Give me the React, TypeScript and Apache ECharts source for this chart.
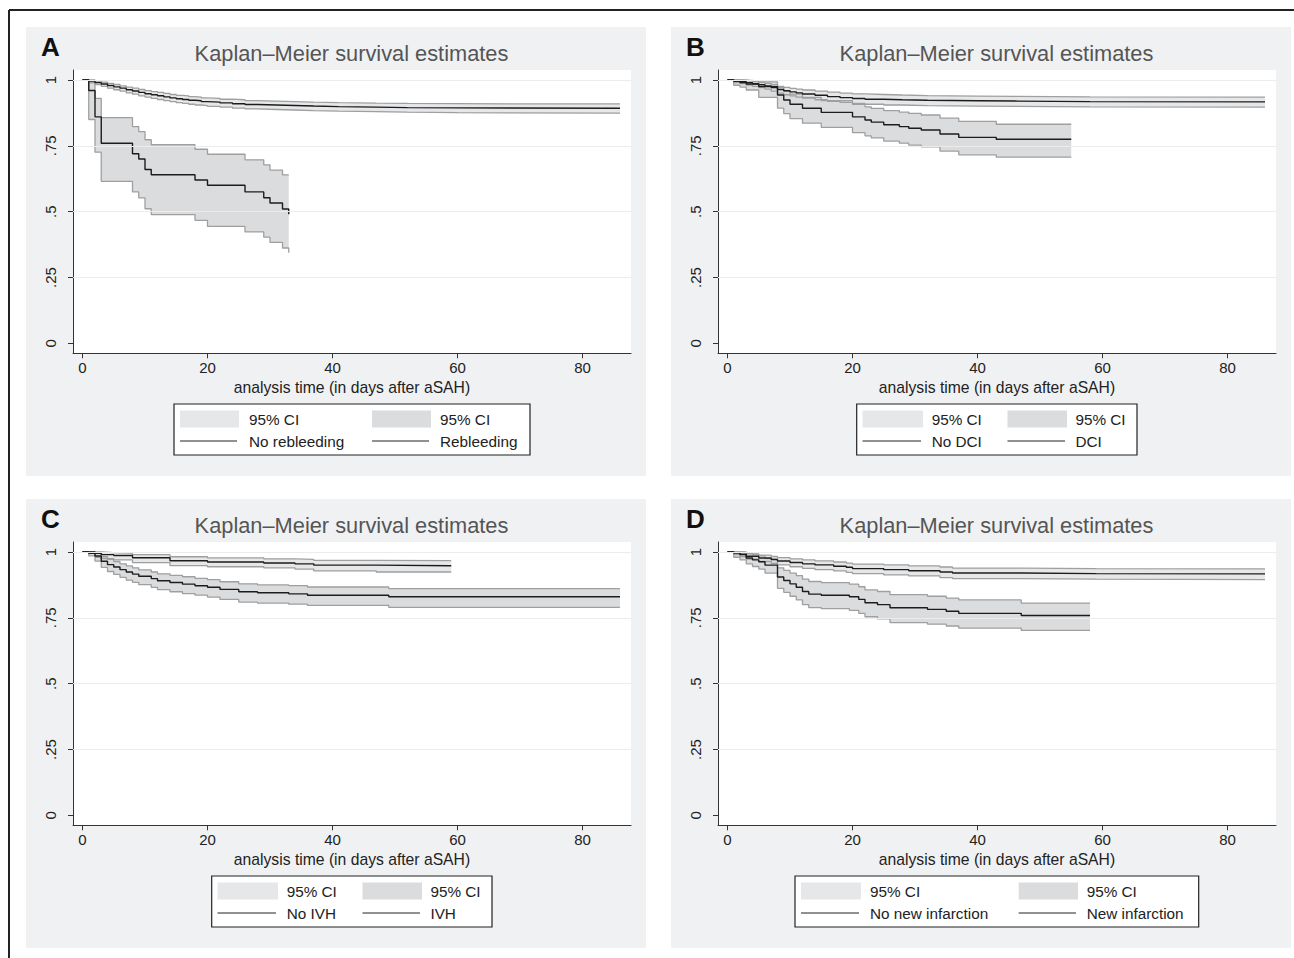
import React, { useEffect, useRef } from 'react';
import * as echarts from 'echarts';

// ---------- Panel A: rebleeding ----------
const aNoTime = [0, 1, 2, 3, 4, 5, 6, 7, 8, 9, 10, 11, 12, 13, 14, 15, 16, 17, 18, 19, 20, 22, 24, 26, 28, 31, 34, 37, 41, 47, 52, 60, 86];
const aNoSurv = [1, 0.996, 0.99, 0.985, 0.979, 0.974, 0.969, 0.963, 0.958, 0.953, 0.948, 0.944, 0.94, 0.936, 0.932, 0.929, 0.926, 0.923, 0.921, 0.918, 0.916, 0.913, 0.91, 0.907, 0.905, 0.903, 0.901, 0.899, 0.897, 0.895, 0.894, 0.893, 0.893];
const aNoUpper = [1, 1, 0.996, 0.992, 0.987, 0.983, 0.978, 0.973, 0.969, 0.964, 0.96, 0.956, 0.953, 0.949, 0.945, 0.942, 0.94, 0.937, 0.935, 0.932, 0.93, 0.927, 0.925, 0.922, 0.92, 0.918, 0.916, 0.914, 0.912, 0.911, 0.91, 0.909, 0.909];
const aNoLower = [1, 0.99, 0.983, 0.976, 0.969, 0.963, 0.958, 0.951, 0.946, 0.94, 0.935, 0.93, 0.926, 0.922, 0.918, 0.914, 0.911, 0.908, 0.905, 0.903, 0.9, 0.897, 0.893, 0.89, 0.888, 0.886, 0.884, 0.882, 0.88, 0.878, 0.876, 0.874, 0.874];

const aReTime = [0, 1, 2, 3, 8, 9, 10, 11, 18, 20, 26, 29, 30, 32, 33];
const aReSurv = [1, 0.96, 0.86, 0.76, 0.72, 0.7, 0.66, 0.64, 0.62, 0.6, 0.575, 0.553, 0.533, 0.51, 0.49];
const aReUpper = [1, 0.99, 0.93, 0.857, 0.823, 0.804, 0.773, 0.754, 0.737, 0.718, 0.697, 0.678, 0.658, 0.64, 0.64];
const aReLower = [1, 0.85, 0.726, 0.615, 0.575, 0.552, 0.511, 0.489, 0.467, 0.444, 0.423, 0.403, 0.383, 0.362, 0.344];

// ---------- Panel B: DCI ----------
const bNoTime = [0, 1, 2, 3, 4, 5, 6, 7, 8, 9, 10, 11, 12, 14, 16, 18, 20, 22, 25, 28, 32, 36, 40, 46, 58, 86];
const bNoSurv = [1, 0.997, 0.994, 0.99, 0.986, 0.982, 0.977, 0.971, 0.964, 0.959, 0.955, 0.951, 0.947, 0.942, 0.937, 0.933, 0.93, 0.927, 0.925, 0.923, 0.922, 0.921, 0.92, 0.918, 0.917, 0.917];
const bNoUpper = [1, 1, 0.999, 0.997, 0.994, 0.991, 0.987, 0.982, 0.976, 0.972, 0.968, 0.965, 0.962, 0.958, 0.954, 0.95, 0.947, 0.945, 0.943, 0.941, 0.94, 0.939, 0.938, 0.936, 0.935, 0.935];
const bNoLower = [1, 0.99, 0.986, 0.981, 0.976, 0.971, 0.965, 0.958, 0.95, 0.944, 0.94, 0.935, 0.931, 0.925, 0.919, 0.915, 0.911, 0.908, 0.905, 0.903, 0.902, 0.901, 0.9, 0.898, 0.897, 0.897];

const bDciTime = [0, 1, 2, 3, 5, 8, 9, 10, 12, 15, 20, 22, 23, 25, 27.5, 29, 31, 34, 37, 43, 55];
const bDciSurv = [1, 0.995, 0.99, 0.985, 0.975, 0.943, 0.924, 0.908, 0.893, 0.877, 0.86, 0.848, 0.84, 0.83, 0.823, 0.817, 0.81, 0.795, 0.782, 0.775, 0.775];
const bDciUpper = [1, 1, 0.999, 0.997, 0.993, 0.972, 0.958, 0.946, 0.934, 0.922, 0.908, 0.898, 0.892, 0.884, 0.878, 0.873, 0.867, 0.855, 0.843, 0.832, 0.832];
const bDciLower = [1, 0.98, 0.973, 0.962, 0.934, 0.893, 0.872, 0.853, 0.836, 0.82, 0.8, 0.788, 0.78, 0.768, 0.76, 0.753, 0.746, 0.73, 0.716, 0.707, 0.707];

// ---------- Panel C: IVH ----------
const cNoTime = [0, 2, 3, 5, 8, 14, 20, 29, 34, 37, 47, 59];
const cNoSurv = [1, 0.995, 0.99, 0.987, 0.978, 0.967, 0.962, 0.958, 0.955, 0.95, 0.948, 0.948];
const cNoUpper = [1, 1, 0.998, 0.996, 0.99, 0.982, 0.978, 0.974, 0.972, 0.968, 0.967, 0.967];
const cNoLower = [1, 0.98, 0.975, 0.97, 0.96, 0.948, 0.944, 0.94, 0.935, 0.928, 0.924, 0.923];

const cIvhTime = [0, 1, 2, 3, 4, 5, 6, 7, 8, 9, 11, 12, 14, 16, 18, 20, 22, 25, 28, 33, 36, 49, 86];
const cIvhSurv = [1, 0.995, 0.985, 0.965, 0.952, 0.943, 0.933, 0.924, 0.916, 0.908, 0.899, 0.891, 0.884, 0.878, 0.872, 0.866, 0.858, 0.849, 0.845, 0.841, 0.836, 0.83, 0.83];
const cIvhUpper = [1, 1, 0.996, 0.982, 0.972, 0.964, 0.955, 0.947, 0.94, 0.932, 0.924, 0.917, 0.911, 0.906, 0.9, 0.895, 0.887, 0.879, 0.875, 0.872, 0.867, 0.861, 0.861];
const cIvhLower = [1, 0.985, 0.965, 0.942, 0.926, 0.915, 0.904, 0.893, 0.885, 0.876, 0.866, 0.857, 0.849, 0.842, 0.836, 0.829, 0.82, 0.81, 0.806, 0.802, 0.797, 0.79, 0.79];

// ---------- Panel D: new infarction ----------
const dNoTime = [0, 1, 2, 3, 5, 7, 8, 10, 12, 14, 17, 19, 20, 25, 29, 34, 36, 47, 59, 86];
const dNoSurv = [1, 0.997, 0.992, 0.984, 0.977, 0.971, 0.966, 0.96, 0.955, 0.951, 0.946, 0.942, 0.937, 0.933, 0.929, 0.924, 0.92, 0.918, 0.917, 0.917];
const dNoUpper = [1, 1, 0.998, 0.993, 0.988, 0.983, 0.979, 0.974, 0.97, 0.966, 0.962, 0.958, 0.954, 0.951, 0.947, 0.943, 0.939, 0.937, 0.936, 0.936];
const dNoLower = [1, 0.99, 0.983, 0.973, 0.964, 0.957, 0.951, 0.944, 0.938, 0.933, 0.928, 0.923, 0.918, 0.913, 0.909, 0.903, 0.899, 0.897, 0.895, 0.895];

const dNewTime = [0, 1, 2, 3, 4, 5, 6, 8, 9, 10, 11, 12, 13, 15, 19.5, 21, 22, 24, 26, 32, 35, 37, 47, 58];
const dNewSurv = [1, 0.997, 0.99, 0.977, 0.97, 0.963, 0.95, 0.905, 0.892, 0.879, 0.866, 0.85, 0.84, 0.836, 0.83, 0.82, 0.807, 0.8, 0.788, 0.782, 0.775, 0.767, 0.759, 0.759];
const dNewUpper = [1, 1, 1, 0.995, 0.99, 0.985, 0.975, 0.94, 0.93, 0.92, 0.91, 0.897, 0.888, 0.884, 0.878, 0.868, 0.856, 0.85, 0.838, 0.832, 0.825, 0.818, 0.806, 0.806];
const dNewLower = [1, 0.98, 0.97, 0.955, 0.945, 0.935, 0.92, 0.862, 0.847, 0.832, 0.818, 0.8, 0.789, 0.785, 0.778, 0.767, 0.754, 0.746, 0.732, 0.726, 0.719, 0.711, 0.702, 0.702];

// ---------- Axis ticks & texts ----------
const xTicks = [0, 20, 40, 60, 80];
const yTicks = [0, 0.25, 0.5, 0.75, 1];
const yTickLabels = ['0', '.25', '.5', '.75', '1'];
const panelLetters = ['A', 'B', 'C', 'D'];
const groupNames = [
  ['No rebleeding', 'Rebleeding'],
  ['No DCI', 'DCI'],
  ['No IVH', 'IVH'],
  ['No new infarction', 'New infarction'],
];
const ciLabel = '95% CI';
const chartTitle = 'Kaplan\u2013Meier survival estimates';
const xTitle = 'analysis time (in days after aSAH)';

const FONT = '"Liberation Sans", Arial, Helvetica, sans-serif';

type Group = { t: number[]; s: number[]; u: number[]; l: number[] };

const panelGroups: Group[][] = [
  [
    { t: aNoTime, s: aNoSurv, u: aNoUpper, l: aNoLower },
    { t: aReTime, s: aReSurv, u: aReUpper, l: aReLower },
  ],
  [
    { t: bNoTime, s: bNoSurv, u: bNoUpper, l: bNoLower },
    { t: bDciTime, s: bDciSurv, u: bDciUpper, l: bDciLower },
  ],
  [
    { t: cNoTime, s: cNoSurv, u: cNoUpper, l: cNoLower },
    { t: cIvhTime, s: cIvhSurv, u: cIvhUpper, l: cIvhLower },
  ],
  [
    { t: dNoTime, s: dNoSurv, u: dNoUpper, l: dNoLower },
    { t: dNewTime, s: dNewSurv, u: dNewUpper, l: dNewLower },
  ],
];

// layout (pixels)
const offsets = [
  [0, 0],
  [645, 0],
  [0, 472],
  [645, 472],
];
// legend geometry relative to panel offset: [boxL, boxR, sw1L, sw1R, tx1, sw2L, sw2R, tx2]
const legendGeom = [
  [174, 530, 180, 239, 249, 372, 431, 440],
  [211.7, 492, 217.5, 278, 286.7, 362.5, 422, 430.4],
  [211.7, 492, 217.5, 278, 286.7, 362.5, 422, 430.4],
  [150, 553.7, 156, 216, 225, 373.7, 433, 441.7],
];

const GRID_L = 73;
const GRID_T = 70;
const GRID_W = 558;
const GRID_H = 283.3;
const X_MIN = -1.52;
const X_MAX = 87.76;
const Y_MIN = -0.038;
const Y_MAX = 1.038;

const BAND_FILLS = ['#e6e7e9', '#dbdcde'];
const EDGE = '#9f9f9f';

function yLabel(v: number): string {
  for (let i = 0; i < yTicks.length; i++) {
    if (Math.abs(yTicks[i] - v) < 1e-9) return yTickLabels[i];
  }
  return '';
}

// custom series drawing a step-shaped confidence band polygon through the axis scales
function bandSeries(i: number, grp: Group, fill: string): any {
  return {
    type: 'custom',
    coordinateSystem: 'cartesian2d',
    xAxisIndex: i,
    yAxisIndex: i,
    silent: true,
    z: 2,
    clip: true,
    data: grp.t.map((x, j) => [x, grp.l[j], grp.u[j]]),
    encode: { x: 0, y: [1, 2] },
    renderItem: (params: any, api: any) => {
      if (params.dataIndex !== 0) return null;
      const n = grp.t.length;
      const pts: number[][] = [];
      for (let j = 0; j < n; j++) {
        pts.push(api.coord([grp.t[j], grp.u[j]]));
        if (j < n - 1) pts.push(api.coord([grp.t[j + 1], grp.u[j]]));
      }
      for (let j = n - 1; j >= 0; j--) {
        if (j < n - 1) pts.push(api.coord([grp.t[j + 1], grp.l[j]]));
        pts.push(api.coord([grp.t[j], grp.l[j]]));
      }
      return {
        type: 'polygon',
        shape: { points: pts },
        style: { fill, stroke: 'none' },
      };
    },
  };
}

function stepLine(i: number, t: number[], v: number[], color: string, width: number, z: number): any {
  return {
    type: 'line', xAxisIndex: i, yAxisIndex: i, step: 'end', symbol: 'none', silent: true, z,
    data: t.map((x, j) => [x, v[j]]),
    lineStyle: { color, width },
  };
}

function buildOption(): any {
  const grid: any[] = [];
  const xAxis: any[] = [];
  const yAxis: any[] = [];
  const series: any[] = [];
  const graphic: any[] = [];

  // outer frame (top and left)
  graphic.push({ type: 'line', shape: { x1: 9, y1: 10, x2: 1294, y2: 10 }, style: { stroke: '#222', lineWidth: 2 }, z: 20, silent: true });
  graphic.push({ type: 'line', shape: { x1: 9, y1: 10, x2: 9, y2: 958 }, style: { stroke: '#222', lineWidth: 2 }, z: 20, silent: true });

  panelGroups.forEach((groups, i) => {
    const [ox, oy] = offsets[i];
    graphic.push({ type: 'rect', shape: { x: 26 + ox, y: 27 + oy, width: 620, height: 449 }, style: { fill: '#f0f1f3' }, z: -10, silent: true });
    graphic.push({
      type: 'text', x: 41 + ox, y: 47 + oy, z: 10, silent: true,
      style: { text: panelLetters[i], fontSize: 26, fontWeight: 'bold', fontFamily: FONT, fill: '#111', textAlign: 'left', textVerticalAlign: 'middle' },
    });
    graphic.push({
      type: 'text', x: GRID_L + ox + GRID_W / 2 - 0.5, y: 53 + oy, z: 10, silent: true,
      style: { text: chartTitle, fontSize: 21.8, fontFamily: FONT, fill: '#555', textAlign: 'center', textVerticalAlign: 'middle' },
    });
    const g = legendGeom[i];
    const by1 = 404 + oy;
    const by2 = 455 + oy;
    const r1 = 419 + oy;
    const r2 = 441 + oy;
    graphic.push({ type: 'rect', shape: { x: g[0] + ox, y: by1, width: g[1] - g[0], height: by2 - by1 }, style: { fill: '#ffffff', stroke: '#222', lineWidth: 1.2 }, z: 5, silent: true });
    [0, 1].forEach((k) => {
      const sL = g[2 + k * 3] + ox;
      const sR = g[3 + k * 3] + ox;
      const tx = g[4 + k * 3] + ox;
      graphic.push({ type: 'rect', shape: { x: sL, y: r1 - 8.5, width: sR - sL, height: 17 }, style: { fill: BAND_FILLS[k] }, z: 6, silent: true });
      graphic.push({ type: 'line', shape: { x1: sL, y1: r2, x2: sR - 2, y2: r2 }, style: { stroke: '#222', lineWidth: 1 }, z: 6, silent: true });
      graphic.push({ type: 'text', x: tx, y: r1, z: 6, silent: true, style: { text: ciLabel, fontSize: 15.3, fontFamily: FONT, fill: '#222', textAlign: 'left', textVerticalAlign: 'middle' } });
      graphic.push({ type: 'text', x: tx, y: r2, z: 6, silent: true, style: { text: groupNames[i][k], fontSize: 15.3, fontFamily: FONT, fill: '#222', textAlign: 'left', textVerticalAlign: 'middle' } });
    });

    grid.push({
      left: GRID_L + ox, top: GRID_T + oy, width: GRID_W, height: GRID_H,
      show: true, backgroundColor: '#ffffff', borderWidth: 0,
    });
    xAxis.push({
      gridIndex: i, type: 'value', min: X_MIN, max: X_MAX,
      axisLine: { show: true, onZero: false, lineStyle: { color: '#333', width: 1 } },
      axisTick: { show: true, customValues: xTicks, length: 5, lineStyle: { color: '#333', width: 1 } },
      axisLabel: { customValues: xTicks, color: '#222', fontSize: 15, fontFamily: FONT, margin: 7 },
      splitLine: { show: false },
      name: xTitle, nameLocation: 'middle', nameGap: 26,
      nameTextStyle: { color: '#222', fontSize: 15.7, fontFamily: FONT },
    });
    yAxis.push({
      gridIndex: i, type: 'value', min: Y_MIN, max: Y_MAX,
      axisLine: { show: true, onZero: false, lineStyle: { color: '#333', width: 1 } },
      axisTick: { show: true, customValues: yTicks, length: 5, lineStyle: { color: '#333', width: 1 } },
      axisLabel: { customValues: yTicks, rotate: 90, color: '#222', fontSize: 15, fontFamily: FONT, margin: 15, formatter: (v: number) => yLabel(v) },
      splitLine: { show: false },
    });

    // faint horizontal grid lines
    series.push({
      type: 'line', xAxisIndex: i, yAxisIndex: i, data: [], silent: true, z: 1,
      markLine: {
        silent: true, symbol: ['none', 'none'], label: { show: false },
        lineStyle: { color: '#ececec', width: 1, type: 'solid' },
        data: yTicks.filter((v) => v > 0).map((v) => ({ yAxis: v })),
      },
    });

    // confidence bands (fills), then their edges, then the survival curves
    groups.forEach((grp, k) => series.push(bandSeries(i, grp, BAND_FILLS[k])));
    groups.forEach((grp) => {
      series.push(stepLine(i, grp.t, grp.l, EDGE, 1.3, 3));
      series.push(stepLine(i, grp.t, grp.u, EDGE, 1.3, 3));
    });
    groups.forEach((grp) => series.push(stepLine(i, grp.t, grp.s, '#1c1c1c', 1.4, 4)));
  });

  return {
    animation: false,
    backgroundColor: '#ffffff',
    textStyle: { fontFamily: FONT },
    grid, xAxis, yAxis, series, graphic,
  };
}

export default function App() {
  const ref = useRef<HTMLDivElement>(null);
  useEffect(() => {
    if (!ref.current) return;
    const chart = echarts.init(ref.current, null, { renderer: 'svg' });
    chart.setOption(buildOption());
    return () => chart.dispose();
  }, []);
  return (
    <div
      ref={ref}
      style={{ position: 'fixed', left: 0, top: 0, width: 1294, height: 958, background: '#ffffff' }}
    />
  );
}
